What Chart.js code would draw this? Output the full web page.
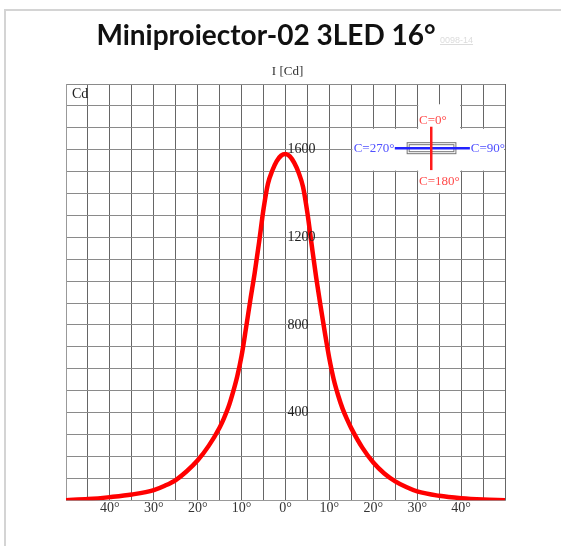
<!DOCTYPE html>
<html lang="ro">
<head>
  <meta charset="UTF-8" />
  <title>Miniproiector-02 3LED 16°</title>
  <script src="https://cdn.jsdelivr.net/npm/chart.js"></script>
  <style>
    body { margin: 0; background: #fff; width: 561px; height: 546px; overflow: hidden; position: relative; }
    .frame { position: absolute; left: 4px; top: 9px; width: 600px; height: 600px;
      border-top: 2px solid #d4d4d4; border-left: 2px solid #d4d4d4; }
    .title { position: absolute; left: 0; top: 17px; width: 532px; text-align: center;
      font: 700 28px Lato, sans-serif; color: #111; white-space: nowrap; }
    .code { position: absolute; left: 440px; top: 35px; font: 9px Arial, sans-serif;
      color: #dcdcdc; text-decoration: underline; }
    #chart { position: absolute; left: 0; top: 0; }
  </style>
</head>
<body>
  <div class="frame"></div>
  <canvas id="chart" width="561" height="546"></canvas>
  <div class="title">Miniproiector-02 3LED 16°</div>
  <div class="code">0098-14</div>

  <script>
    // unghi (grade) si intensitate (cd)
    const angles = [-50, -45, -40, -35, -30, -27.5, -25, -22.5, -20, -17.5, -15, -14, -13, -12, -11, -10,
                    -9, -8, -7, -6, -5, -4, -3, -2, -1, 0, 1, 2, 3, 4, 5, 6, 7, 8, 9, 10,
                    11, 12, 13, 14, 15, 17.5, 20, 22.5, 25, 27.5, 30, 35, 40, 45, 50];
    const intensity = [0, 5, 14, 26, 46, 66, 92, 132, 182, 248, 332, 375, 425, 490, 565, 660,
                       785, 915, 1040, 1180, 1330, 1445, 1505, 1548, 1573, 1580, 1570, 1540, 1495, 1430, 1310, 1160, 1015, 885, 760, 645,
                       550, 478, 418, 370, 328, 240, 172, 122, 86, 60, 40, 20, 9, 3, 0];
    const yLabels = [400, 800, 1200, 1600];
    const xLabelAngles = [-40, -30, -20, -10, 0, 10, 20, 30, 40];

    const serif = "'Liberation Serif', 'Times New Roman', serif";

    const overlay = {
      id: 'overlay',
      afterDatasetsDraw(chart) {
        const { ctx, scales: { x, y }, chartArea } = chart;
        ctx.save();

        // etichete axa verticala, langa linia de 0°
        ctx.fillStyle = '#222';
        ctx.font = '14px ' + serif;
        ctx.textAlign = 'left';
        ctx.textBaseline = 'middle';
        yLabels.forEach(v => ctx.fillText(String(v), x.getPixelForValue(0) + 2, y.getPixelForValue(v)));

        ctx.textBaseline = 'top';
        ctx.fillText('Cd', chartArea.left + 6, chartArea.top + 3);

        ctx.font = '13px ' + serif;
        ctx.textAlign = 'center';
        ctx.textBaseline = 'middle';
        ctx.fillStyle = '#333';
        ctx.fillText('I [Cd]', x.getPixelForValue(0) + 2, chartArea.top - 12);

        // mic desen cu planurile C
        ctx.fillStyle = '#fff';
        const box = (x1, x2, y1, y2) => {
          const l = x.getPixelForValue(x1) + 1, r = x.getPixelForValue(x2) - 1;
          const t = y.getPixelForValue(y2) + 1, b = y.getPixelForValue(y1) - 1;
          ctx.fillRect(l, t, r - l, b - t);
        };
        box(15, 50, 1500, 1700);
        box(30, 40, 1400, 1812);

        const cx = x.getPixelForValue(33.2), cy = y.getPixelForValue(1607);
        // corpul lampii
        const rl = x.getPixelForValue(27.6), rr = x.getPixelForValue(38.7);
        ctx.strokeStyle = '#777';
        ctx.lineWidth = 1;
        ctx.strokeRect(rl + 0.5, cy - 5.5, rr - rl, 11);
        ctx.strokeRect(rl + 2.5, cy - 3.5, rr - rl - 4, 7);

        ctx.lineWidth = 2.5;
        ctx.strokeStyle = '#2222ff';
        ctx.beginPath();
        ctx.moveTo(x.getPixelForValue(24.9), cy);
        ctx.lineTo(x.getPixelForValue(42), cy);
        ctx.stroke();
        ctx.strokeStyle = '#ff1a1a';
        ctx.beginPath();
        ctx.moveTo(cx, y.getPixelForValue(1705));
        ctx.lineTo(cx, y.getPixelForValue(1507));
        ctx.stroke();

        ctx.font = '13px ' + serif;
        ctx.textBaseline = 'middle';
        ctx.fillStyle = '#ff4a4a';
        ctx.textAlign = 'left';
        ctx.fillText('C=0°', x.getPixelForValue(30.4), y.getPixelForValue(1735));
        ctx.fillText('C=180°', x.getPixelForValue(30.4), y.getPixelForValue(1456));
        ctx.fillStyle = '#5050ff';
        ctx.textAlign = 'right';
        ctx.fillText('C=270°', x.getPixelForValue(24.8), cy);
        ctx.textAlign = 'left';
        ctx.fillText('C=90°', x.getPixelForValue(42.2), cy);

        ctx.restore();
      }
    };

    new Chart(document.getElementById('chart'), {
      type: 'line',
      data: {
        datasets: [{
          data: angles.map((a, i) => ({ x: a, y: intensity[i] })),
          borderColor: '#ff0000',
          borderWidth: 4.5,
          pointRadius: 0,
          cubicInterpolationMode: 'monotone',
          fill: false
        }]
      },
      options: {
        responsive: false,
        animation: false,
        layout: { padding: { left: 66, right: 56, top: 84, bottom: 29 } },
        plugins: { legend: { display: false }, tooltip: { enabled: false } },
        scales: {
          x: {
            type: 'linear', min: -50, max: 50,
            grid: { color: '#666', drawTicks: false },
            border: { color: '#999' },
            ticks: {
              stepSize: 5, autoSkip: false, maxRotation: 0, minRotation: 0, padding: 0,
              color: '#333', font: { family: serif, size: 14 },
              callback: v => xLabelAngles.includes(v) ? Math.abs(v) + '°' : ''
            }
          },
          y: {
            min: 0, max: 1900,
            grid: { color: '#8a8a8a', drawTicks: false },
            border: { color: '#999' },
            ticks: { stepSize: 100, display: false }
          }
        }
      },
      plugins: [overlay]
    });
  </script>
</body>
</html>
